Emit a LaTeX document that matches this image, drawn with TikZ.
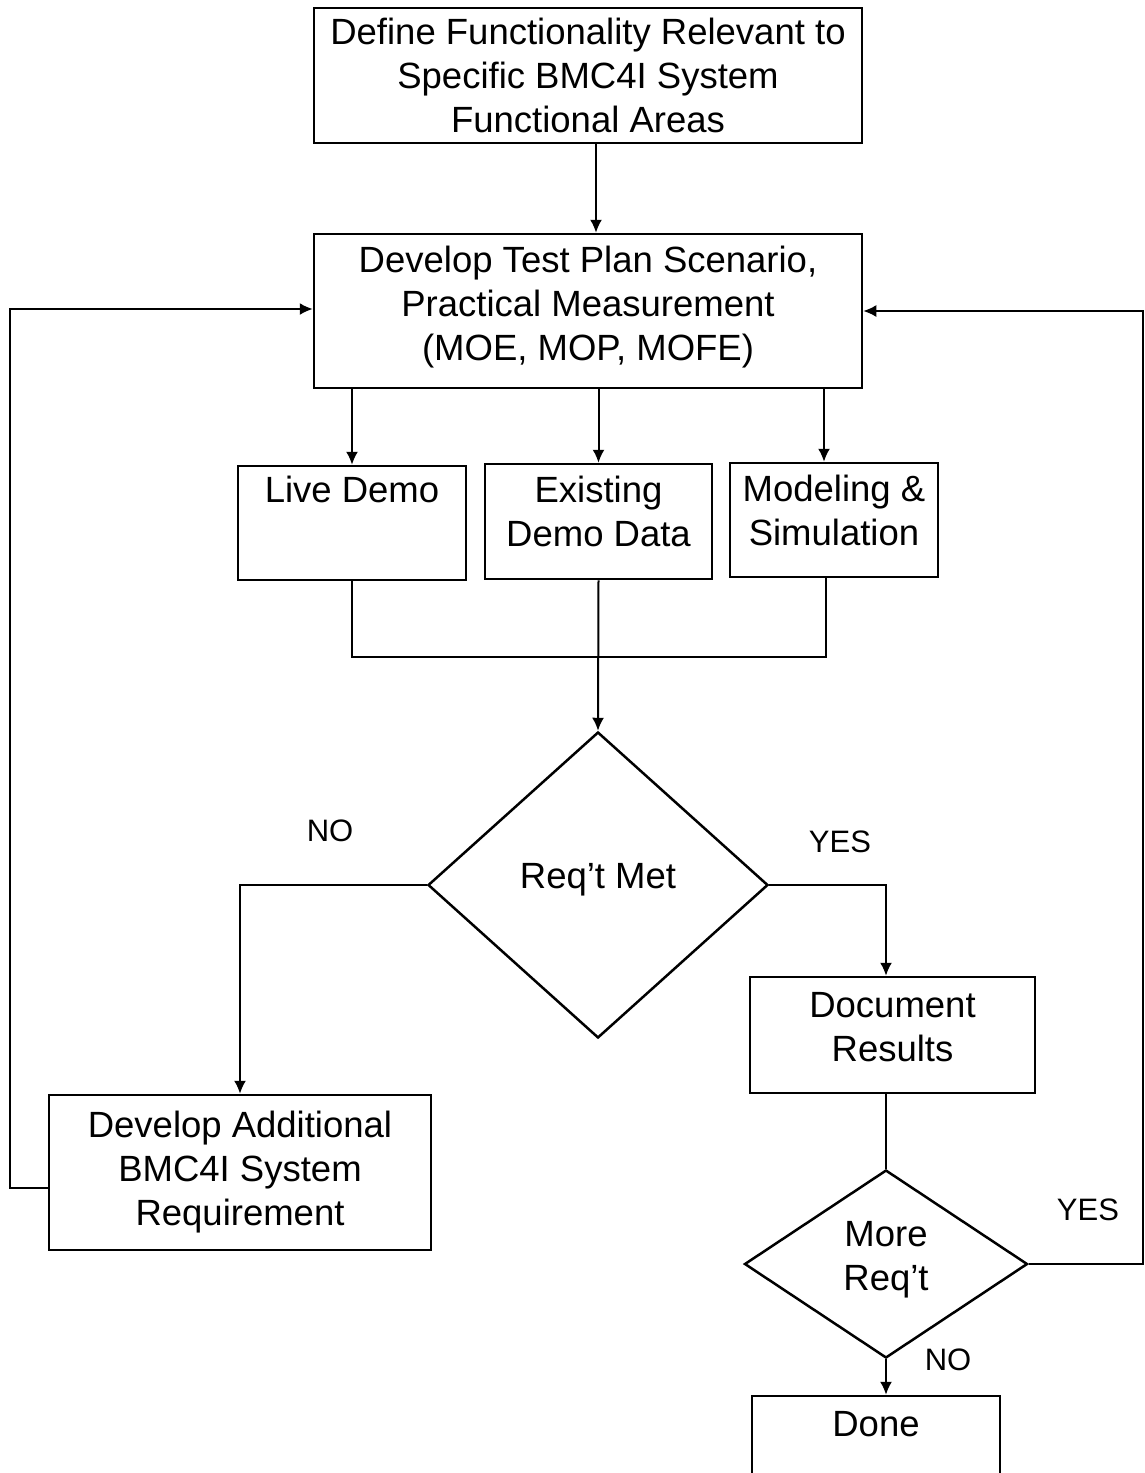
\documentclass[tikz,border=0pt]{standalone}
\usepackage{fontspec}
\setmainfont{Liberation Sans}
\usepackage{tikz}
\usetikzlibrary{shapes}
\usetikzlibrary{shapes.geometric}
\usetikzlibrary{arrows.meta}
\tikzstyle{step box}=[rectangle,draw=black,line width=2.5pt,inner sep=0mm,align=center,font=\fontsize{36.5pt}{44pt}\selectfont]
\tikzstyle{decision}=[diamond,draw=black,line width=2.5pt,inner sep=0mm,align=center,font=\fontsize{36.5pt}{44pt}\selectfont]
\tikzstyle{answer}=[inner sep=0mm,font=\fontsize{31pt}{36pt}\selectfont]
\tikzstyle{flow}=[line width=2pt,>={Latex[length=13pt,width=12pt]}]

\begin{document}
\begin{tikzpicture}[x=1pt,y=-1pt]
    \useasboundingbox (0,0) rectangle (1144,1473);
    \clip (0,0) rectangle (1144,1473);
    \node[step box,minimum width=548pt,minimum height=135pt] at (588,75.5) (def) {Define Functionality Relevant to\\Specific BMC4I System\\Functional Areas};
    \node[step box,minimum width=548pt,minimum height=154pt,text depth=16pt] at (588,311) (test) {Develop Test Plan Scenario,\\Practical Measurement\\(MOE, MOP, MOFE)};
    \node[step box,minimum width=228pt,minimum height=114pt,text depth=23pt] at (352,523) (live) {Live Demo\\\strut};
    \node[step box,minimum width=227pt,minimum height=115pt,text depth=20pt] at (598.5,521.5) (exist) {Existing\\Demo Data};
    \node[step box,minimum width=208pt,minimum height=114pt,text depth=20pt] at (834,520) (model) {Modeling \&\\Simulation};
    \node[decision,minimum width=340pt,minimum height=306pt,text depth=18pt] at (598,885) (reqmet) {Req’t Met};
    \node[step box,minimum width=382pt,minimum height=155pt] at (240,1172.5) (addl) {Develop Additional\\BMC4I System\\Requirement};
    \node[step box,minimum width=285pt,minimum height=116pt,text depth=16pt] at (892.5,1035) (doc) {Document\\Results};
    \node[decision,minimum width=283pt,minimum height=188pt,text depth=16pt] at (886,1264) (more) {More\\Req’t};
    \node[step box,minimum width=248pt,minimum height=114pt] at (876,1453) (done) {Done\\\strut};
    \node[answer] at (330,831) (no1) {NO};
    \node[answer] at (840,842) (yes1) {YES};
    \node[answer] at (1088,1210) (yes2) {YES};
    \node[answer] at (948,1360) (no2) {NO};
    \draw[flow,->] ([xshift=8pt]def.south) to ([xshift=8pt]test.north);
    \draw[flow,->] (test.south -| live.north) to (live.north);
    \draw[flow,->] (test.south -| exist.north) to (exist.north);
    \draw[flow,->] ([xshift=-10pt]test.south -| model.north) to ([xshift=-10pt]model.north);
    \draw[flow] (live.south) -- ++(0,76) -| ([xshift=-8pt]model.south);
    \draw[flow,->] (exist.south) to (reqmet.north);
    \draw[flow,->] (reqmet.west) -| (addl.north);
    \draw[flow,->] (reqmet.east) -| (doc.north -| more.north);
    \draw[flow] (doc.south -| more.north) to (more.north);
    \draw[flow,->] (more.south) to (more.south |- done.north);
    \draw[flow,->] ([yshift=-15pt]addl.west) -- ++(-38,0) |- ([yshift=2pt]test.west);
    \draw[flow,->] (more.east) -- ++(114,0) |- (test.east);
\end{tikzpicture}
\end{document}
